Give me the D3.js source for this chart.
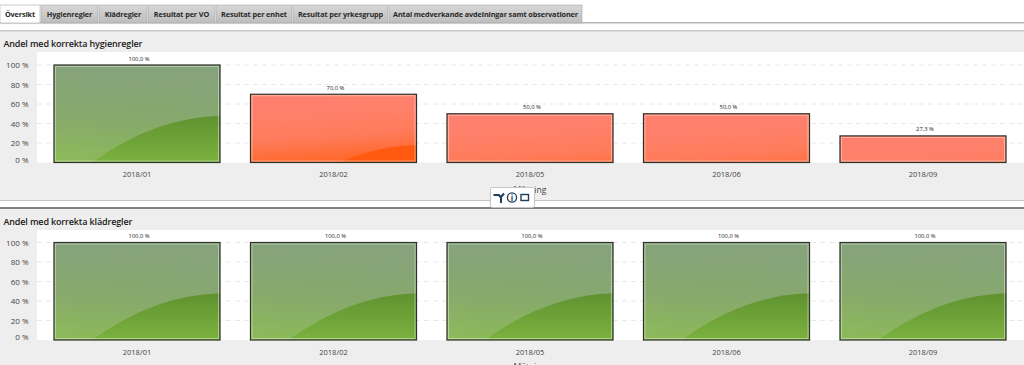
<!DOCTYPE html>
<html>
<head>
<meta charset="utf-8">
<script src="https://cdn.jsdelivr.net/npm/d3@7"></script>
<style>
html, body { margin: 0; padding: 0; background: #fff; overflow: hidden; }
svg { display: block; }
text { font-family: "Open Sans", sans-serif; }
.y-axis path, .y-axis line { display: none; }
</style>
</head>
<body>
<script>
var w = 1024;
var h = 365;

var tabLabels = ["Översikt", "Hygienregler", "Klädregler", "Resultat per VO", "Resultat per enhet", "Resultat per yrkesgrupp", "Antal medverkande avdelningar samt observationer"];
var tabEdges = [0, 41, 99, 148, 216, 293, 389, 583];
var categories = ["2018/01", "2018/02", "2018/05", "2018/06", "2018/09"];
var hygienValues = [100, 70, 50, 50, 27.3];
var kladValues = [100, 100, 100, 100, 100];
var yTicks = [0, 20, 40, 60, 80, 100];
var xTitle = "Mätning";

var svg = d3.select("body").append("svg")
    .attr("width", w)
    .attr("height", h);

var defs = svg.append("defs");

function addGradient(id, x2, y2, stops) {
    var g = defs.append("linearGradient")
        .attr("id", id)
        .attr("x1", 0).attr("y1", 0)
        .attr("x2", x2).attr("y2", y2);
    stops.forEach(function(s) {
        g.append("stop").attr("offset", s[0]).attr("stop-color", s[1]);
    });
}
// gradients run from the top of the bar, over the full 100 % height
addGradient("green-body", -0.12, 1, [[0, "#86a37b"], [0.5, "#87a96c"], [1, "#8dbb58"]]);
addGradient("green-swoosh", 0, 1, [[0, "#5f9230"], [1, "#7cb23f"]]);
addGradient("red-body", 0.12, 1, [[0, "#ff7f70"], [0.28, "#ff8068"], [0.5, "#ff7a58"], [0.7, "#ff6a30"], [1, "#ff6a28"]]);
addGradient("red-swoosh", 0, 1, [[0, "#ff5a10"], [0.5, "#ff5a10"], [1, "#ff4a00"]]);
addGradient("tab-bg", 0, 1, [[0, "#d8d8d8"], [1, "#bdbdbd"]]);

// page furniture
svg.append("rect").attr("x", 0).attr("y", 31).attr("width", w).attr("height", h - 31).attr("fill", "#eeeeee");
svg.append("rect").attr("x", 0).attr("y", 22).attr("width", w).attr("height", 1.5).attr("fill", "#b5b5b5");
svg.append("rect").attr("x", 0).attr("y", 30).attr("width", w).attr("height", 1.5).attr("fill", "#c8c8c8");
svg.append("rect").attr("x", 0).attr("y", 200).attr("width", w).attr("height", 7).attr("fill", "#ffffff");
svg.append("rect").attr("x", 0).attr("y", 200).attr("width", w).attr("height", 1).attr("fill", "#c4c4c4");
svg.append("rect").attr("x", 0).attr("y", 207).attr("width", w).attr("height", 2).attr("fill", "#808080");

// tabs
var tabs = svg.append("g").selectAll("g")
    .data(tabLabels)
    .enter()
    .append("g");
tabs.append("rect")
    .attr("x", function(d, i) { return tabEdges[i]; })
    .attr("y", 5)
    .attr("width", function(d, i) { return tabEdges[i + 1] - tabEdges[i] - 1; })
    .attr("height", 18)
    .attr("fill", function(d, i) { return i == 0 ? "#fff" : "url(#tab-bg)"; })
    .attr("stroke", "#a8a8a8")
    .attr("stroke-width", 0.6);
tabs.append("text")
    .text(function(d) { return d; })
    .attr("x", function(d, i) { return (tabEdges[i] + tabEdges[i + 1] - 1) / 2; })
    .attr("y", 17)
    .attr("text-anchor", "middle")
    .attr("font-size", "7.3px")
    .attr("font-weight", 700)
    .attr("letter-spacing", "-0.12px")
    .attr("fill", "#2a2a2a");

var xScale = d3.scaleBand()
    .domain(categories)
    .range([38.75, 1021.25])
    .paddingInner(0.155)
    .paddingOuter(0.0775);

function drawChart(id, title, values, top, y0, y100, titleY) {
    var yScale = d3.scaleLinear().domain([0, 100]).range([y0, y100]);
    var chart = svg.append("g").attr("id", id);

    chart.append("text")
        .text(title)
        .attr("x", 3.5)
        .attr("y", titleY)
        .attr("font-size", "9px")
        .attr("font-weight", 600)
        .attr("letter-spacing", "-0.15px")
        .attr("fill", "#1a1a1a");

    chart.append("rect")
        .attr("x", 37)
        .attr("y", top)
        .attr("width", w - 37)
        .attr("height", y0 - top)
        .attr("fill", "#fff");

    // dashed grid
    chart.append("g").selectAll("line")
        .data(yTicks.filter(function(d) { return d > 0; }))
        .enter()
        .append("line")
        .attr("x1", 37)
        .attr("x2", w)
        .attr("y1", function(d) { return yScale(d); })
        .attr("y2", function(d) { return yScale(d); })
        .attr("stroke", "#e8e8e8")
        .attr("stroke-dasharray", "5,4");

    var yAxis = d3.axisLeft(yScale)
        .tickValues(yTicks)
        .tickSize(0)
        .tickPadding(0)
        .tickFormat(function(d) { return d + " %"; });
    var axisG = chart.append("g")
        .attr("class", "y-axis")
        .attr("transform", "translate(28.5,0)")
        .call(yAxis);
    axisG.selectAll("text")
        .attr("font-size", "8px")
        .attr("fill", "#444")
        .style("font-family", "'Open Sans', sans-serif")
        .attr("dy", function(d) { return d == 0 ? "-0.05em" : "0.32em"; });

    var fullH = yScale(0) - yScale(100);
    var bars = chart.append("g").selectAll("g")
        .data(values)
        .enter()
        .append("g")
        .attr("transform", function(d, i) {
            return "translate(" + xScale(categories[i]) + "," + yScale(d) + ")";
        });

    bars.append("clipPath")
        .attr("id", function(d, i) { return id + "-clip-" + i; })
        .append("rect")
        .attr("width", xScale.bandwidth())
        .attr("height", function(d) { return yScale(0) - yScale(d); });

    var inner = bars.append("g")
        .attr("clip-path", function(d, i) { return "url(#" + id + "-clip-" + i + ")"; });

    function tone(d) { return d >= 90 ? "green" : "red"; }

    inner.append("rect")
        .attr("width", xScale.bandwidth())
        .attr("height", fullH)
        .attr("fill", function(d) { return "url(#" + tone(d) + "-body)"; });

    // the glossy swoosh hangs at a fixed distance from the top of each bar
    var bw = xScale.bandwidth();
    inner.append("path")
        .attr("d", "M" + bw * 0.23 + "," + fullH
            + "Q" + bw * 0.6 + "," + fullH * 0.54 + " " + bw + "," + fullH * 0.52
            + "L" + bw + "," + fullH + "Z")
        .attr("fill", function(d) { return "url(#" + tone(d) + "-swoosh)"; });

    bars.append("rect")
        .attr("x", 1.5)
        .attr("y", 1.5)
        .attr("width", bw - 3)
        .attr("height", function(d) { return yScale(0) - yScale(d) - 3; })
        .attr("fill", "none")
        .attr("stroke", "#fff")
        .attr("stroke-opacity", 0.4);

    bars.append("rect")
        .attr("x", 0)
        .attr("y", 0)
        .attr("width", bw)
        .attr("height", function(d) { return yScale(0) - yScale(d); })
        .attr("fill", "none")
        .attr("stroke", "#2e3328")
        .attr("stroke-width", 1.2);

    bars.append("text")
        .text(function(d) { return d3.format(".1f")(d).replace(".", ",") + " %"; })
        .attr("x", bw / 2 + 2)
        .attr("y", -4.5)
        .attr("text-anchor", "middle")
        .attr("font-size", "5.8px")
        .attr("fill", "#222");

    chart.append("g").selectAll("text")
        .data(categories)
        .enter()
        .append("text")
        .text(function(d) { return d; })
        .attr("x", function(d) { return xScale(d) + xScale.bandwidth() / 2; })
        .attr("y", y0 + 14.5)
        .attr("text-anchor", "middle")
        .attr("font-size", "7.5px")
        .attr("fill", "#444");

    chart.append("text")
        .text(xTitle)
        .attr("x", 530)
        .attr("y", y0 + 30)
        .attr("text-anchor", "middle")
        .attr("font-size", "8.6px")
        .attr("fill", "#444");
}

drawChart("hygien", "Andel med korrekta hygienregler", hygienValues, 52, 162.5, 65, 47);
drawChart("klad", "Andel med korrekta klädregler", kladValues, 230, 340, 242.5, 224.5);

// floating toolbar over the first chart
var tb = svg.append("g").attr("transform", "translate(490,187)");
tb.append("rect")
    .attr("x", 0.5).attr("y", 0.5)
    .attr("width", 44).attr("height", 20)
    .attr("rx", 2)
    .attr("fill", "#fff")
    .attr("stroke", "#c4c4c4");
tb.append("path")
    .attr("d", "M3.5,8H9L11,10L14,6.5M9,8L11,11V16")
    .attr("fill", "none")
    .attr("stroke", "#1f3f5f")
    .attr("stroke-width", 2);
tb.append("circle")
    .attr("cx", 22).attr("cy", 10.5).attr("r", 4.6)
    .attr("fill", "none")
    .attr("stroke", "#1f3f5f")
    .attr("stroke-width", 1.3);
tb.append("text")
    .text("i")
    .attr("x", 22).attr("y", 13.5)
    .attr("text-anchor", "middle")
    .attr("font-size", "8px")
    .attr("font-weight", 700)
    .attr("fill", "#1f3f5f");
tb.append("rect")
    .attr("x", 31).attr("y", 7.5)
    .attr("width", 7.5).attr("height", 6)
    .attr("fill", "none")
    .attr("stroke", "#1f3f5f")
    .attr("stroke-width", 1.4);
</script>
</body>
</html>
